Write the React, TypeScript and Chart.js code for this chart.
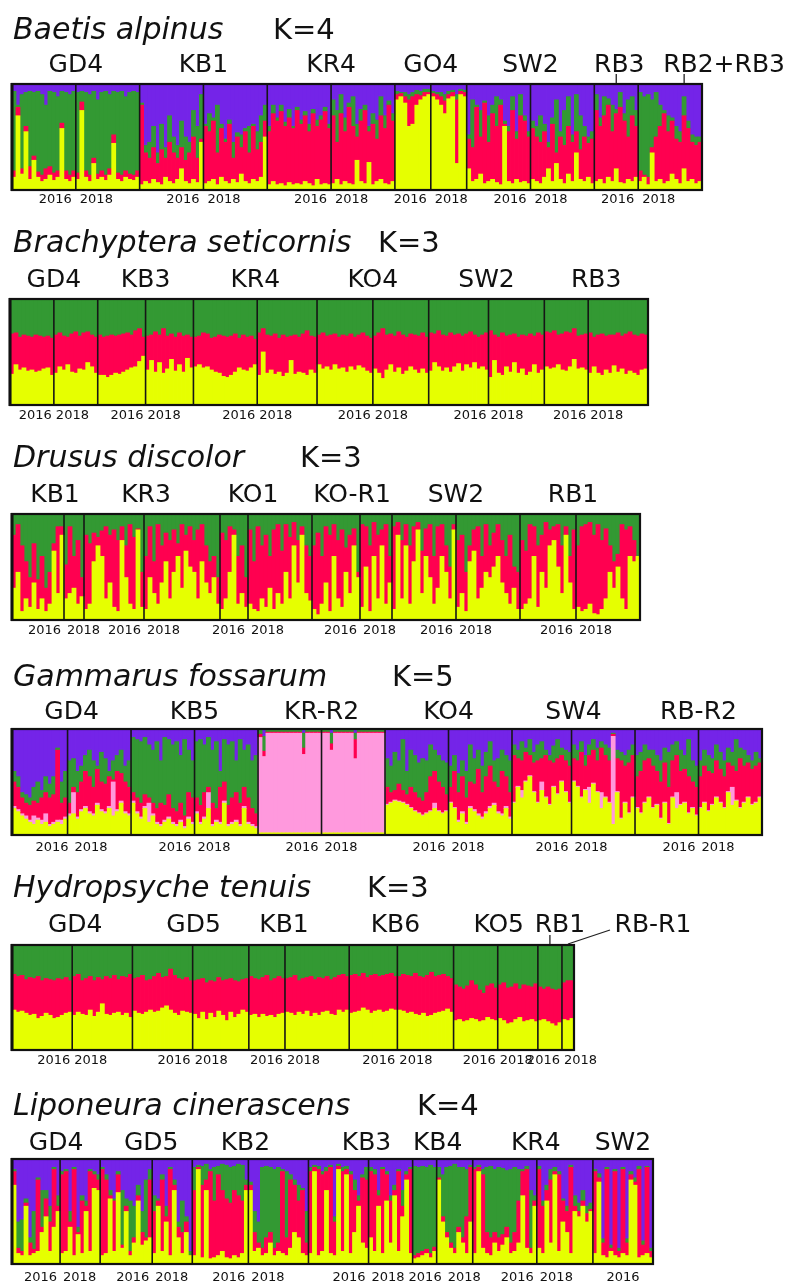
import React, { useEffect, useRef } from "react";
import { Chart, registerables } from "chart.js";

Chart.register(...registerables);

const YELLOW = "#e6ff00";
const RED = "#ff0050";
const GREEN = "#339933";
const PURPLE = "#7424e8";
const PINK = "#ff99dd";

// ---------------- Baetis alpinus (K=4) ----------------
const baetisPops = ["GD4", "KB1", "KR4", "GO4", "SW2", "RB3", "RB2+RB3"];
const baetisBlockPop = [0, 0, 1, 1, 2, 2, 3, 3, 4, 4, 5, 6];
const baetisBlockSizes = [16, 16, 16, 16, 16, 16, 9, 9, 16, 16, 11, 16];
const baetisYears = ["2016", "2018", "2016", "2018", "2016", "2018", "2016", "2018", "2016", "2018", "2016", "2018"];
// cumulative tops (%), stacked bottom→top: yellow, red, green, purple
const baetisYellowTop = [
  12, 70, 15, 55, 10, 28, 12, 8, 10, 14, 9, 12, 58, 10, 8, 12,
  10, 75, 12, 8, 25, 10, 12, 9, 14, 44, 10, 8, 12, 10, 9, 12,
  5, 8, 6, 10, 7, 5, 12, 8, 6, 10, 20, 8, 6, 10, 7, 45,
  6, 8, 10, 5, 12, 8, 6, 10, 7, 15, 8, 6, 10, 8, 12, 50,
  5, 8, 5, 6, 4, 7, 5, 6, 5, 8, 6, 4, 10, 5, 6, 5,
  6, 10, 5, 8, 6, 5, 28, 8, 6, 26, 5, 8, 10, 6, 5, 8,
  85, 88, 82, 60, 62, 80, 85, 88, 90,
  88, 85, 80, 72, 86, 88, 25, 90, 88,
  20, 8, 10, 15, 6, 8, 10, 7, 5, 60, 8, 6, 10, 7, 8, 6,
  10, 8, 6, 12, 20, 8, 25, 10, 6, 15, 8, 35, 10, 8, 12, 6,
  8, 10, 6, 12, 8, 20, 7, 6, 10, 8, 12,
  8, 12, 5, 35, 8, 10, 6, 8, 15, 10, 6, 20, 8, 10, 6, 8,
];
const baetisRedTop = [
  18, 78, 20, 60, 22, 32, 17, 14, 20, 22, 16, 18, 63, 18, 14, 18,
  16, 83, 18, 14, 30, 15, 18, 14, 20, 52, 16, 14, 18, 15, 14, 18,
  80, 35, 30, 40, 25, 38, 30, 45, 35, 30, 40, 28, 35, 50, 30, 48,
  60, 55, 65, 35, 58, 45, 62, 30, 50, 40, 55, 35, 60, 38, 45, 65,
  55, 72, 65, 74, 60, 68, 58, 75, 62, 70, 55, 72, 60, 66, 74, 58,
  70, 45, 72, 55, 78, 60, 50, 65, 75, 55, 62, 48, 70, 58, 80, 65,
  90, 91, 88, 85, 88, 90, 89, 92, 92,
  91, 90, 88, 84, 90, 92, 85, 93, 92,
  48, 40, 78, 50, 82, 45, 72, 60, 80, 62, 55, 75, 48, 70, 65, 50,
  58, 50, 45, 55, 40, 62, 35, 50, 42, 60, 45, 55, 38, 50, 44, 48,
  75, 60, 70, 80, 55, 72, 78, 65, 50, 70, 60,
  18, 14, 12, 40, 50, 60, 72, 55, 65, 48, 45, 70, 58, 45, 42, 45,
];
const baetisGreenTop = [
  93, 80, 90, 92, 93, 92, 93, 90, 80, 93, 92, 88, 93, 92, 90, 93,
  92, 93, 92, 90, 93, 85, 92, 93, 90, 93, 92, 93, 88, 92, 93, 92,
  82, 42, 45, 60, 35, 62, 40, 70, 50, 42, 65, 50, 45, 75, 60, 90,
  62, 72, 68, 80, 62, 48, 66, 45, 54, 52, 58, 60, 62, 55, 70, 80,
  60, 80, 68, 80, 64, 76, 60, 78, 66, 74, 62, 76, 66, 70, 78, 62,
  85, 75, 90, 68, 82, 88, 62, 76, 80, 60, 72, 66, 88, 70, 84, 72,
  93, 92, 92, 90, 92, 94, 93, 95, 95,
  93, 92, 92, 90, 93, 94, 90, 95, 94,
  52, 85, 80, 75, 84, 70, 80, 88, 85, 65, 60, 88, 55, 90, 70, 55,
  65, 60, 70, 62, 45, 68, 85, 55, 75, 88, 52, 90, 70, 60, 50, 55,
  90, 68, 88, 86, 80, 76, 92, 72, 85, 88, 75,
  92, 88, 90, 85, 92, 80, 75, 70, 68, 60, 55, 88, 65, 52, 50, 50,
];

// ---------------- Brachyptera seticornis (K=3) ----------------
const brachPops = ["GD4", "KB3", "KR4", "KO4", "SW2", "RB3"];
const brachBlockPop = [0, 0, 1, 1, 2, 2, 3, 3, 4, 4, 5, 5];
const brachBlockSizes = [11, 11, 12, 12, 16, 15, 14, 14, 15, 14, 11, 15];
const brachYears = ["2016", "2018", "2016", "2018", "2016", "2018", "2016", "2018", "2016", "2018", "2016", "2018"];
const brachYellowTop = [
  29, 38, 33, 35, 32, 33, 31, 32, 34, 35, 28,
  30, 36, 33, 38, 31, 30, 34, 33, 40, 36, 30,
  28, 28, 26, 28, 30, 29, 31, 33, 35, 36, 41, 46,
  33, 42, 31, 40, 30, 34, 43, 32, 38, 31, 44, 35,
  36, 38, 35, 36, 33, 31, 30, 27, 26, 28, 31, 35, 33, 32, 35, 38,
  28, 50, 30, 33, 29, 31, 27, 30, 42, 29, 31, 30, 28, 33, 30,
  38, 34, 36, 33, 38, 34, 35, 31, 36, 33, 37, 35, 32, 30,
  34, 30, 25, 33, 38, 31, 35, 29, 32, 36, 33, 30, 34, 30,
  32, 40, 36, 32, 35, 31, 36, 39, 32, 38, 35, 40, 34, 36, 33,
  26, 42, 30, 28, 36, 31, 40, 30, 34, 28, 31, 38, 30, 33,
  36, 34, 35, 38, 33, 32, 36, 43, 34, 35, 33,
  30, 36, 30, 28, 33, 30, 37, 31, 34, 29, 32, 30, 28, 33, 34,
];
const brachRedTop = [
  67, 68, 64, 66, 65, 64, 66, 65, 64, 65, 63,
  66, 68, 65, 64, 67, 69, 65, 68, 69, 66, 64,
  66, 64, 65, 66, 65, 66, 67, 68, 66, 70, 72, 64,
  65, 66, 69, 66, 72, 65, 67, 64, 68, 65, 66, 64,
  64, 65, 68, 67, 63, 64, 66, 65, 64, 65, 67, 63, 66, 64, 65, 62,
  68, 72, 66, 65, 67, 63, 66, 64, 65, 66, 64, 67, 70, 65, 64,
  66, 68, 65, 66, 67, 64, 66, 65, 67, 64, 66, 68, 65, 63,
  65, 68, 72, 66, 67, 65, 69, 66, 64, 67, 66, 65, 68, 64,
  68, 67, 70, 66, 65, 68, 66, 67, 65, 67, 69, 66, 64, 66, 68,
  70, 66, 64, 68, 65, 66, 67, 64, 66, 65, 67, 65, 68, 66,
  69, 68, 70, 66, 67, 69, 68, 72, 65, 66, 67,
  68, 64, 66, 67, 65, 66, 66, 68, 65, 67, 69, 66, 65, 67, 66,
];

// ---------------- Drusus discolor (K=3) ----------------
const drususPops = ["KB1", "KR3", "KO1", "KO-R1", "SW2", "RB1"];
const drususBlockPop = [0, 0, 1, 1, 2, 2, 3, 3, 4, 4, 5, 5];
const drususBlockSizes = [13, 5, 15, 19, 7, 16, 12, 8, 16, 16, 14, 16];
const drususYears = ["2016", "2018", "2016", "2018", "2016", "2018", "2016", "2018", "2016", "2018", "2016", "2018"];
const drususYellowTop = [
  30, 45, 8, 20, 12, 35, 10, 20, 8, 15, 65, 25, 80,
  20, 25, 30, 15, 22,
  10, 15, 55, 70, 60, 20, 35, 12, 8, 75, 40, 15, 10, 85, 12,
  10, 40, 25, 15, 35, 55, 20, 45, 60, 30, 65, 50, 45, 20, 55, 35, 25, 40, 15,
  10, 20, 45, 80, 15, 25, 12,
  15, 10, 8, 20, 12, 30, 10, 25, 15, 45, 20, 70, 35, 80, 25, 18,
  10, 5, 15, 35, 8, 60, 20, 12, 45, 25, 70, 40,
  12, 50, 8, 60, 20, 70, 15, 35,
  10, 80, 20, 70, 15, 55, 85, 25, 60, 40, 15, 30, 60, 45, 20, 85,
  12, 25, 8, 55, 65, 20, 30, 45, 40, 50, 60, 35, 25, 15, 30, 10,
  10, 15, 20, 60, 12, 45, 30, 70, 75, 50, 25, 80, 35, 10,
  12, 8, 10, 15, 6, 5, 10, 20, 45, 30, 50, 20, 10, 60, 55, 60,
];
const drususRedTop = [
  80, 90, 70, 55, 40, 72, 38, 60, 30, 45, 72, 88, 88,
  52, 88, 60, 75, 40,
  80, 72, 82, 78, 84, 88, 80, 85, 75, 88, 70, 90, 78, 86, 45,
  60, 88, 55, 90, 70, 82, 75, 85, 72, 90, 80, 88, 75, 85, 90, 70, 55, 60, 40,
  82, 75, 88, 85, 60, 70, 40,
  85, 55, 88, 70, 80, 60, 85, 90, 65, 90, 78, 92, 75, 88, 70, 60,
  70, 82, 60, 88, 80, 90, 75, 85, 68, 80, 86, 45,
  90, 88, 70, 92, 80, 85, 90, 60,
  88, 92, 75, 90, 70, 88, 92, 65, 86, 90, 60, 88, 90, 70, 50, 90,
  75, 80, 45, 70, 85, 88, 60, 90, 70, 82, 90, 75, 60, 80, 50, 45,
  75, 65, 90, 88, 70, 80, 92, 85, 88, 90, 70, 88, 60, 85,
  70, 88, 90, 92, 80, 90, 75, 86, 70, 55, 62, 90, 85, 88, 75, 60,
];

// ---------------- Gammarus fossarum (K=5) ----------------
const gammPops = ["GD4", "KB5", "KR-R2", "KO4", "SW4", "RB-R2"];
const gammBlockPop = [0, 0, 1, 1, 2, 2, 3, 3, 4, 4, 5, 5];
const gammBlockSizes = [14, 16, 16, 16, 16, 16, 16, 16, 15, 16, 16, 16];
const gammYears = ["2016", "2018", "2016", "2018", "2016", "2018", "2016", "2018", "2016", "2018", "2016", "2018"];
// stacked bottom→top: yellow, pink, red, green, purple
const gammYellowTop = [
  25, 22, 18, 15, 12, 10, 14, 10, 12, 8, 10, 12, 10, 15,
  18, 20, 15, 22, 25, 20, 18, 28, 22, 20, 25, 18, 22, 30, 20, 18,
  30, 20, 15, 25, 12, 18, 10, 8, 12, 15, 10, 8, 12, 6, 15, 10,
  20, 10, 15, 25, 8, 12, 10, 30, 8, 10, 12, 8, 25, 10, 8, 6,
  2, 2, 2, 2, 2, 2, 2, 2, 2, 2, 2, 2, 2, 2, 2, 2,
  2, 2, 2, 2, 2, 2, 2, 2, 2, 2, 2, 2, 2, 2, 2, 2,
  28, 30, 32, 31, 30, 28, 25, 22, 20, 18, 20, 22, 25, 22, 20, 22,
  30, 25, 12, 20, 10, 25, 22, 18, 15, 20, 25, 28, 20, 18, 25, 15,
  30, 45, 35, 50, 55, 40, 30, 42, 35, 28, 45, 38, 50, 40, 30,
  50, 45, 35, 42, 30, 48, 40, 25, 35, 30, 10, 40, 15, 30, 20, 35,
  25, 20, 30, 35, 25, 28, 15, 30, 10, 35, 25, 28, 30, 20, 25, 18,
  25, 30, 22, 28, 35, 30, 25, 40, 28, 32, 25, 30, 35, 28, 30, 35,
];
const gammPinkTop = [
  27, 24, 20, 18, 14, 18, 16, 14, 20, 10, 12, 14, 14, 17,
  20, 40, 17, 24, 27, 22, 20, 30, 24, 22, 27, 50, 24, 32, 22, 20,
  32, 22, 17, 27, 30, 20, 12, 10, 14, 17, 12, 10, 14, 8, 17, 12,
  22, 12, 17, 40, 10, 14, 12, 32, 10, 12, 14, 10, 27, 12, 10, 8,
  92, 74, 96, 96, 96, 96, 96, 96, 96, 96, 96, 76, 96, 96, 96, 96,
  96, 96, 80, 96, 96, 96, 96, 96, 72, 96, 96, 96, 96, 96, 96, 96,
  29, 31, 33, 32, 31, 29, 26, 23, 21, 19, 21, 23, 30, 23, 21, 23,
  31, 26, 14, 22, 12, 27, 24, 20, 17, 22, 27, 30, 22, 20, 27, 17,
  31, 46, 42, 51, 56, 41, 31, 50, 36, 29, 46, 39, 51, 41, 31,
  51, 46, 36, 43, 45, 49, 41, 40, 36, 31, 93, 41, 16, 31, 21, 36,
  26, 21, 31, 36, 26, 29, 16, 31, 11, 36, 40, 29, 31, 21, 26, 19,
  26, 31, 23, 29, 36, 31, 26, 41, 45, 33, 26, 31, 36, 29, 31, 36,
];
const gammRedTop = [
  50, 45, 35, 30, 28, 32, 30, 35, 40, 35, 38, 80, 30, 35,
  30, 45, 40, 50, 60, 55, 45, 62, 50, 48, 55, 52, 60, 58, 50, 45,
  40, 35, 30, 38, 35, 30, 25, 30, 28, 38, 25, 22, 30, 18, 40, 35,
  35, 28, 40, 45, 30, 25, 45, 50, 28, 35, 40, 30, 45, 35, 25, 20,
  95, 79, 97, 97, 97, 97, 97, 97, 97, 97, 97, 82, 97, 97, 97, 97,
  97, 97, 86, 97, 97, 97, 97, 97, 90, 97, 97, 97, 97, 97, 97, 97,
  45, 40, 42, 48, 42, 38, 45, 40, 35, 32, 40, 55, 60, 50, 45, 38,
  45, 60, 40, 55, 35, 50, 48, 62, 40, 55, 65, 50, 45, 60, 55, 40,
  75, 72, 70, 78, 75, 68, 70, 72, 75, 70, 68, 72, 75, 70, 65,
  72, 70, 78, 65, 75, 80, 70, 82, 75, 70, 95, 72, 70, 65, 68, 75,
  55, 60, 70, 72, 65, 60, 50, 68, 45, 70, 75, 60, 62, 55, 50, 45,
  55, 65, 60, 58, 70, 62, 55, 68, 65, 60, 72, 65, 68, 62, 65, 68,
];
const gammGreenTop = [
  60, 55, 40, 38, 35, 45, 50, 42, 55, 48, 55, 82, 50, 60,
  70, 72, 60, 65, 75, 80, 70, 65, 78, 72, 60, 70, 75, 80, 65, 70,
  92, 90, 88, 92, 85, 80, 88, 70, 92, 90, 85, 88, 75, 90, 80, 70,
  88, 90, 85, 92, 80, 88, 60, 90, 85, 88, 70, 90, 80, 85, 70, 75,
  99, 93, 99, 99, 99, 99, 99, 99, 99, 99, 99, 96, 99, 99, 99, 99,
  99, 99, 96, 99, 99, 99, 99, 99, 96, 99, 99, 99, 99, 99, 99, 99,
  72, 65, 78, 70, 90, 60, 80, 75, 68, 72, 70, 85, 80, 75, 70, 68,
  65, 75, 58, 70, 60, 85, 72, 80, 65, 78, 88, 70, 72, 80, 75, 70,
  85, 80, 88, 82, 90, 78, 85, 88, 80, 75, 84, 90, 82, 80, 78,
  85, 80, 88, 75, 85, 90, 82, 88, 85, 82, 96, 80, 78, 75, 80, 85,
  75, 78, 85, 80, 80, 75, 70, 82, 78, 85, 88, 80, 75, 90, 70, 65,
  70, 80, 75, 72, 85, 78, 70, 82, 78, 90, 82, 80, 75, 70, 78, 72,
];

// ---------------- Hydropsyche tenuis (K=3) ----------------
const hydroPops = ["GD4", "GD5", "KB1", "KB6", "KO5", "RB1", "RB-R1"];
const hydroBlockPop = [0, 0, 1, 1, 2, 2, 3, 3, 4, 4, 5, 6];
const hydroBlockSizes = [15, 15, 15, 14, 9, 16, 12, 14, 11, 10, 6, 3];
const hydroYears = ["2016", "2018", "2016", "2018", "2016", "2018", "2016", "2018", "2016", "2018", "2016", "2018"];
const hydroYellowTop = [
  38, 36, 37, 35, 33, 34, 30, 32, 35, 33, 30, 31, 33, 35, 36,
  33, 36, 34, 33, 38, 32, 36, 44, 34, 33, 35, 36, 33, 35, 31,
  37, 35, 34, 36, 38, 36, 37, 40, 42, 38, 35, 33, 37, 36, 35,
  34, 30, 36, 29, 35, 31, 37, 33, 28, 36, 31, 34, 38, 36,
  33, 34, 31, 34, 32, 33, 31, 34, 35,
  36, 35, 33, 36, 34, 37, 32, 35, 33, 36, 37, 34, 33, 38, 36, 38,
  35, 36, 37, 40, 38, 35, 37, 38, 36, 37, 39, 38,
  38, 37, 35, 36, 34, 33, 35, 32, 33, 35, 36, 37, 39, 36,
  28, 29, 27, 28, 30, 29, 27, 28, 31, 29, 28,
  30, 28, 25, 26, 29, 31, 27, 28, 29, 27,
  28, 29, 27, 25, 23, 26,
  29, 28, 30,
];
const hydroRedTop = [
  72, 70, 71, 67, 69, 68, 70, 66, 68, 67, 66, 68, 67, 69, 66,
  70, 72, 66, 68, 70, 66, 69, 67, 70, 68, 71, 67, 70, 69, 72,
  68, 69, 71, 66, 67, 70, 73, 69, 70, 77, 71, 68, 67, 69, 66,
  66, 67, 68, 64, 66, 65, 69, 66, 67, 68, 66, 65, 67, 68,
  70, 68, 67, 69, 71, 66, 68, 70, 68,
  68, 69, 71, 66, 68, 69, 70, 67, 69, 68, 70, 67, 69, 71, 72, 70,
  71, 72, 70, 73, 69, 71, 72, 70, 71, 72, 73, 70,
  70, 72, 71, 70, 73, 70, 69, 71, 74, 70, 71, 72, 70, 68,
  62, 60, 58, 61, 66, 62, 57, 54, 61, 63, 59,
  62, 64, 59, 60, 63, 58, 62, 61, 60, 63,
  60, 58, 60, 58, 57, 58,
  64, 66, 66,
];

// ---------------- Liponeura cinerascens (K=4) ----------------
const lipoPops = ["GD4", "GD5", "KB2", "KB3", "KB4", "KR4", "SW2"];
const lipoBlockPop = [0, 0, 1, 1, 2, 2, 3, 3, 4, 4, 5, 5, 6];
const lipoBlockSizes = [12, 10, 13, 10, 14, 15, 15, 11, 6, 9, 16, 14, 15];
const lipoYears = ["2016", "2018", "2016", "2018", "2016", "2018", "2016", "2018", "2016", "2018", "2016", "2018", "2016"];
const lipoYellowTop = [
  75, 10, 8, 55, 8, 10, 12, 30, 45, 12, 35, 50,
  10, 12, 35, 8, 28, 10, 50, 12, 72, 70,
  8, 10, 62, 12, 68, 15, 50, 8, 20, 60, 18, 22, 25,
  10, 55, 12, 40, 8, 70, 25, 10, 30, 8,
  8, 90, 6, 70, 5, 6, 8, 12, 6, 5, 8, 6, 10, 70,
  70, 12, 15, 8, 10, 20, 8, 12, 10, 8, 15, 30, 25, 10, 8,
  10, 88, 8, 12, 70, 10, 8, 90, 12, 85, 10, 30, 55, 20, 15,
  25, 12, 55, 10, 60, 20, 65, 12, 45, 80, 10,
  5, 6, 8, 10, 6, 12,
  80, 40, 25, 15, 10, 30, 20, 10, 40,
  10, 88, 15, 10, 8, 20, 12, 18, 25, 10, 12, 20, 65, 15, 10, 55,
  15, 10, 60, 20, 85, 12, 40, 30, 10, 50, 45, 55, 40, 50,
  10, 78, 8, 6, 12, 8, 6, 10, 8, 80, 75, 6, 8, 10, 6,
];
const lipoRedTop = [
  88, 15, 12, 58, 20, 14, 80, 35, 62, 40, 90, 55,
  85, 88, 40, 90, 30, 60, 55, 88, 85, 80,
  90, 80, 65, 60, 85, 18, 55, 12, 25, 65, 30, 25, 80,
  50, 60, 80, 45, 90, 75, 35, 30, 40, 8,
  70, 92, 75, 80, 88, 60, 85, 70, 62, 58, 70, 65, 60, 75,
  75, 30, 20, 15, 25, 30, 15, 20, 88, 25, 80, 75, 60, 70, 20,
  88, 92, 90, 85, 88, 92, 40, 93, 88, 90, 85, 70, 60, 82, 80,
  88, 85, 65, 90, 85, 60, 70, 88, 55, 85, 90,
  8, 10, 12, 14, 10, 16,
  82, 45, 30, 20, 15, 35, 25, 45, 92,
  90, 92, 85, 30, 25, 30, 25, 28, 35, 20, 30, 60, 88, 90, 15, 60,
  90, 55, 70, 80, 88, 85, 60, 50, 92, 55, 50, 60, 48, 52,
  88, 82, 20, 90, 15, 88, 12, 90, 20, 85, 78, 90, 18, 92, 12,
];
const lipoGreenTop = [
  90, 40, 42, 62, 25, 50, 82, 70, 70, 55, 92, 65,
  88, 90, 50, 92, 35, 65, 60, 90, 88, 85,
  92, 85, 70, 62, 88, 70, 62, 60, 55, 75, 50, 80, 90,
  65, 62, 85, 55, 92, 80, 40, 60, 45, 12,
  92, 94, 93, 95, 90, 92, 93, 95, 94, 92, 93, 95, 94, 80,
  78, 50, 40, 92, 93, 92, 90, 92, 90, 88, 85, 80, 75, 72, 50,
  92, 94, 93, 88, 92, 94, 45, 95, 92, 93, 88, 80, 65, 85, 92,
  92, 90, 70, 92, 88, 65, 75, 90, 70, 88, 92,
  93, 92, 93, 92, 94, 92,
  92, 85, 92, 93, 95, 92, 92, 90, 94,
  92, 94, 90, 92, 93, 90, 92, 91, 89, 90, 92, 90, 90, 93, 70, 65,
  93, 60, 75, 90, 92, 88, 62, 55, 94, 65, 58, 70, 55, 58,
  90, 86, 24, 92, 18, 90, 15, 92, 24, 88, 82, 93, 22, 93, 15,
];

// ---------------- layout / style (no data) ----------------
type Tick = { pop: number; frac: number; toDx: number; toY: number };
interface Panel {
  canvasTop: number;
  canvasHeight: number;
  box: { left: number; top: number; right: number; bottom: number };
  title: string;
  k: string;
  titleX: number;
  kX: number;
  titleY: number;
  labelY: number;
  yearY: number;
  yearGap: number;
  pops: string[];
  popDx: number[];
  blockPop: number[];
  blockSizes: number[];
  blockYears: string[];
  yearShift: number[];
  ticks: Tick[];
  tops: number[][];
  colors: string[];
}

const panels: Panel[] = [
  {
    canvasTop: 0, canvasHeight: 212,
    box: { left: 12, top: 84, right: 702, bottom: 190 },
    title: "Baetis alpinus", k: "K=4", titleX: 13, kX: 273, titleY: 39,
    labelY: 72, yearY: 200, yearGap: 4,
    pops: baetisPops, popDx: [0, 0, 0, 0, 0, 3, 54],
    blockPop: baetisBlockPop, blockSizes: baetisBlockSizes, blockYears: baetisYears,
    yearShift: [],
    ticks: [
      { pop: 5, frac: 0.5, toDx: 0, toY: 74 },
      { pop: 6, frac: 0.72, toDx: 0, toY: 74 },
    ],
    tops: [baetisYellowTop, baetisRedTop, baetisGreenTop],
    colors: [YELLOW, RED, GREEN, PURPLE],
  },
  {
    canvasTop: 212, canvasHeight: 218,
    box: { left: 10, top: 299, right: 648, bottom: 405 },
    title: "Brachyptera seticornis", k: "K=3", titleX: 13, kX: 378, titleY: 252,
    labelY: 287, yearY: 416, yearGap: 2,
    pops: brachPops, popDx: [0, 0, 0, 0, 0, 0],
    blockPop: brachBlockPop, blockSizes: brachBlockSizes, blockYears: brachYears,
    yearShift: [],
    ticks: [],
    tops: [brachYellowTop, brachRedTop],
    colors: [YELLOW, RED, GREEN],
  },
  {
    canvasTop: 430, canvasHeight: 215,
    box: { left: 12, top: 514, right: 640, bottom: 620 },
    title: "Drusus discolor", k: "K=3", titleX: 13, kX: 300, titleY: 467,
    labelY: 502, yearY: 631, yearGap: 3,
    pops: drususPops, popDx: [7, -6, -13, 0, 0, -7],
    blockPop: drususBlockPop, blockSizes: drususBlockSizes, blockYears: drususYears,
    yearShift: [],
    ticks: [],
    tops: [drususYellowTop, drususRedTop],
    colors: [YELLOW, RED, GREEN],
  },
  {
    canvasTop: 645, canvasHeight: 215,
    box: { left: 12, top: 729, right: 762, bottom: 835 },
    title: "Gammarus fossarum", k: "K=5", titleX: 13, kX: 392, titleY: 686,
    labelY: 719, yearY: 848, yearGap: 3,
    pops: gammPops, popDx: [0, 0, 0, 0, 0, 0],
    blockPop: gammBlockPop, blockSizes: gammBlockSizes, blockYears: gammYears,
    yearShift: [4, 4],
    ticks: [],
    tops: [gammYellowTop, gammPinkTop, gammRedTop, gammGreenTop],
    colors: [YELLOW, PINK, RED, GREEN, PURPLE],
  },
  {
    canvasTop: 860, canvasHeight: 215,
    box: { left: 12, top: 945, right: 574, bottom: 1050 },
    title: "Hydropsyche tenuis", k: "K=3", titleX: 13, kX: 367, titleY: 897,
    labelY: 932, yearY: 1061, yearGap: 2,
    pops: hydroPops, popDx: [3, 3, -15, -6, 3, 10, 85],
    blockPop: hydroBlockPop, blockSizes: hydroBlockSizes, blockYears: hydroYears,
    yearShift: [],
    ticks: [
      { pop: 5, frac: 0.5, toDx: 0, toY: 935 },
      { pop: 6, frac: 0.5, toDx: 42, toY: 930 },
    ],
    tops: [hydroYellowTop, hydroRedTop],
    colors: [YELLOW, RED, GREEN],
  },
  {
    canvasTop: 1075, canvasHeight: 208,
    box: { left: 12, top: 1159, right: 653, bottom: 1264 },
    title: "Liponeura cinerascens", k: "K=4", titleX: 13, kX: 417, titleY: 1115,
    labelY: 1150, yearY: 1278, yearGap: 3,
    pops: lipoPops, popDx: [0, 5, -5, 6, -5, 3, 0],
    blockPop: lipoBlockPop, blockSizes: lipoBlockSizes, blockYears: lipoYears,
    yearShift: [0, 0, 0, 0, 0, 0, 0, 0, 8, 8],
    ticks: [],
    tops: [lipoYellowTop, lipoRedTop, lipoGreenTop],
    colors: [YELLOW, RED, GREEN, PURPLE],
  },
];

function buildLayers(tops: number[][]): number[][] {
  const n = tops[0].length;
  const out: number[][] = [];
  let prev = new Array(n).fill(0);
  for (const cur of tops) {
    out.push(cur.map((v, i) => Math.max(0, v - prev[i])));
    prev = cur.map((v, i) => Math.max(v, prev[i]));
  }
  out.push(prev.map((v) => Math.max(0, 100 - v)));
  return out;
}

function makePlugin(p: Panel, n: number) {
  return {
    id: "structureDecor",
    afterDatasetsDraw(chart: any) {
      const ctx: CanvasRenderingContext2D = chart.ctx;
      const xs = chart.scales.x;
      const ys = chart.scales.y;
      const half = (xs.getPixelForValue(1) - xs.getPixelForValue(0)) / 2;
      const edge = (i: number) =>
        i < n ? xs.getPixelForValue(i) - half : xs.getPixelForValue(n - 1) + half;
      const top = ys.getPixelForValue(100);
      const bottom = ys.getPixelForValue(0);
      const Y = (abs: number) => abs - p.canvasTop;

      const starts: number[] = [];
      let acc = 0;
      for (const s of p.blockSizes) {
        starts.push(acc);
        acc += s;
      }
      const blockEnd = (b: number) => starts[b] + p.blockSizes[b];

      ctx.save();
      // block separators
      ctx.strokeStyle = "#161616";
      ctx.lineWidth = 1.6;
      for (let b = 1; b < p.blockSizes.length; b++) {
        const x = edge(starts[b]);
        ctx.beginPath();
        ctx.moveTo(x, top);
        ctx.lineTo(x, bottom);
        ctx.stroke();
      }
      // frame
      ctx.strokeStyle = "#111";
      ctx.lineWidth = 2.2;
      ctx.strokeRect(edge(0), top, edge(n) - edge(0), bottom - top);
      ctx.lineWidth = 3;
      ctx.beginPath();
      ctx.moveTo(edge(0), top - 1);
      ctx.lineTo(edge(0), bottom + 1);
      ctx.stroke();

      // title
      ctx.fillStyle = "#111";
      ctx.textBaseline = "alphabetic";
      ctx.textAlign = "left";
      ctx.font = 'italic 30px "DejaVu Sans"';
      ctx.fillText(p.title, p.titleX, Y(p.titleY));
      ctx.font = '29px "DejaVu Sans"';
      ctx.fillText(p.k, p.kX, Y(p.titleY));

      // population labels
      const popRange = (pi: number) => {
        let a = Infinity;
        let z = -Infinity;
        p.blockPop.forEach((bp, b) => {
          if (bp === pi) {
            a = Math.min(a, edge(starts[b]));
            z = Math.max(z, edge(blockEnd(b)));
          }
        });
        return [a, z];
      };
      ctx.font = '25px "DejaVu Sans"';
      ctx.textAlign = "center";
      p.pops.forEach((name, pi) => {
        const [a, z] = popRange(pi);
        ctx.fillText(name, (a + z) / 2 + (p.popDx[pi] || 0), Y(p.labelY));
      });

      // label pointer lines
      ctx.strokeStyle = "#222";
      ctx.lineWidth = 1.3;
      for (const t of p.ticks) {
        const [a, z] = popRange(t.pop);
        const x = a + (z - a) * t.frac;
        ctx.beginPath();
        ctx.moveTo(x, top - 1);
        ctx.lineTo(x + t.toDx, Y(t.toY));
        ctx.stroke();
      }

      // year labels
      ctx.font = '13px "DejaVu Sans"';
      ctx.textBaseline = "middle";
      const nb = p.blockSizes.length;
      for (let b = 0; b < nb; b++) {
        const yr = p.blockYears[b];
        const sh = p.yearShift[b] || 0;
        const yy = Y(p.yearY);
        if (yr === "2016" && b + 1 < nb && p.blockYears[b + 1] === "2018") {
          ctx.textAlign = "right";
          ctx.fillText(yr, edge(blockEnd(b)) - p.yearGap + sh, yy);
        } else if (yr === "2018" && b > 0 && p.blockYears[b - 1] === "2016") {
          ctx.textAlign = "left";
          ctx.fillText(yr, edge(starts[b]) + p.yearGap + sh, yy);
        } else {
          ctx.textAlign = "center";
          ctx.fillText(yr, (edge(starts[b]) + edge(blockEnd(b))) / 2 + sh, yy);
        }
      }
      ctx.restore();
    },
  };
}

function StructurePanel({ p }: { p: Panel }) {
  const ref = useRef<HTMLCanvasElement>(null);
  useEffect(() => {
    const canvas = ref.current;
    if (!canvas) return;
    const n = p.blockSizes.reduce((a, b) => a + b, 0);
    const labels = Array.from({ length: n }, (_, i) => String(i));
    const layers = buildLayers(p.tops);
    const datasets = layers.map((data, k) => ({
      data,
      backgroundColor: p.colors[k],
      borderWidth: 0,
      barPercentage: 1,
      categoryPercentage: 1,
      inflateAmount: 0.4,
    }));
    const chart = new Chart(canvas, {
      type: "bar",
      data: { labels, datasets },
      options: {
        responsive: false,
        maintainAspectRatio: false,
        animation: false,
        devicePixelRatio: 1,
        events: [],
        layout: {
          padding: {
            left: p.box.left,
            right: 793 - p.box.right,
            top: p.box.top - p.canvasTop,
            bottom: p.canvasTop + p.canvasHeight - p.box.bottom,
          },
        },
        plugins: { legend: { display: false }, tooltip: { enabled: false }, title: { display: false } },
        scales: {
          x: { stacked: true, display: false },
          y: { stacked: true, display: false, min: 0, max: 100 },
        },
      } as any,
      plugins: [makePlugin(p, n)],
    });
    return () => chart.destroy();
  }, [p]);
  return (
    <canvas
      ref={ref}
      width={793}
      height={p.canvasHeight}
      style={{ position: "absolute", left: 0, top: p.canvasTop, width: 793, height: p.canvasHeight }}
    />
  );
}

export default function App() {
  return (
    <div style={{ position: "absolute", left: 0, top: 0, width: 793, height: 1283, background: "#fff", overflow: "hidden" }}>
      {panels.map((p, i) => (
        <StructurePanel key={i} p={p} />
      ))}
    </div>
  );
}
